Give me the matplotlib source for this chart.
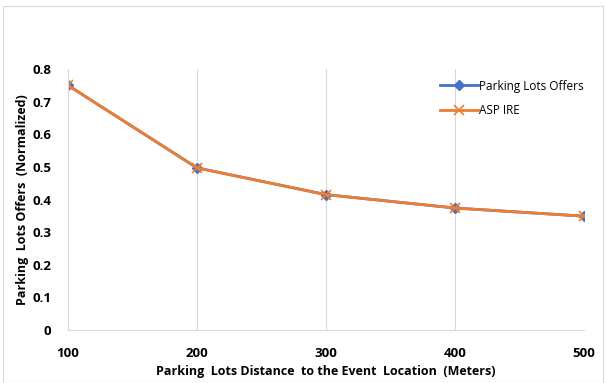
from matplotlib import pyplot as plt

# 距离（米）与归一化的停车场报价
distance = [100, 200, 300, 400, 500]
lots_offers = [0.75, 0.497, 0.415, 0.374, 0.349]
aspire = [0.75, 0.497, 0.415, 0.374, 0.349]

plt.rcParams['font.family'] = ['Open Sans', 'DejaVu Sans']

fig = plt.figure(figsize=(6.06, 3.83), dpi=100)
ax = fig.add_axes([0.112, 0.138, 0.852, 0.682])

ax.plot(distance, lots_offers, color='#4472C4', marker='D', markersize=5.5, lw=2, label='Parking Lots Offers')
ax.plot(distance, aspire, color='#ED7D31', marker='x', markersize=7, mew=1.2, lw=2, label='ASP IRE')

ax.set_xlim(100, 500)
ax.set_ylim(0, 0.8)
ax.set_xticks(distance)
ax.set_yticks([0, 0.1, 0.2, 0.3, 0.4, 0.5, 0.6, 0.7, 0.8])
ax.set_yticklabels(['0', '0.1', '0.2', '0.3', '0.4', '0.5', '0.6', '0.7', '0.8'])
ax.tick_params(length=0, labelsize=9.5)
for lab in ax.get_xticklabels() + ax.get_yticklabels():
    lab.set_fontweight('bold')
ax.tick_params(axis='x', pad=12)
ax.tick_params(axis='y', pad=12)

ax.grid(axis='x', color='#D9D9D9', lw=0.8)
for s in ['top', 'right']:
    ax.spines[s].set_visible(False)
ax.spines['left'].set_color('#D9D9D9')
ax.spines['bottom'].set_color('#D9D9D9')

ax.set_xlabel('Parking  Lots Distance  to the Event  Location  (Meters)', fontsize=9, fontweight='bold', labelpad=4)
ax.set_ylabel('Parking  Lots Offers  (Normalized)', fontsize=9, fontweight='bold', labelpad=2)

ax.legend(loc='upper right', bbox_to_anchor=(1.02, 1.0), frameon=False, fontsize=8.5,
          handlelength=3.2, handletextpad=0.1, labelspacing=1.0)

# 图外边框
fig.patches.append(plt.Rectangle((0.005, 0.0), 0.99, 0.985, transform=fig.transFigure,
                                 fill=False, edgecolor='#D9D9D9', lw=0.8))

plt.savefig('out.png')
